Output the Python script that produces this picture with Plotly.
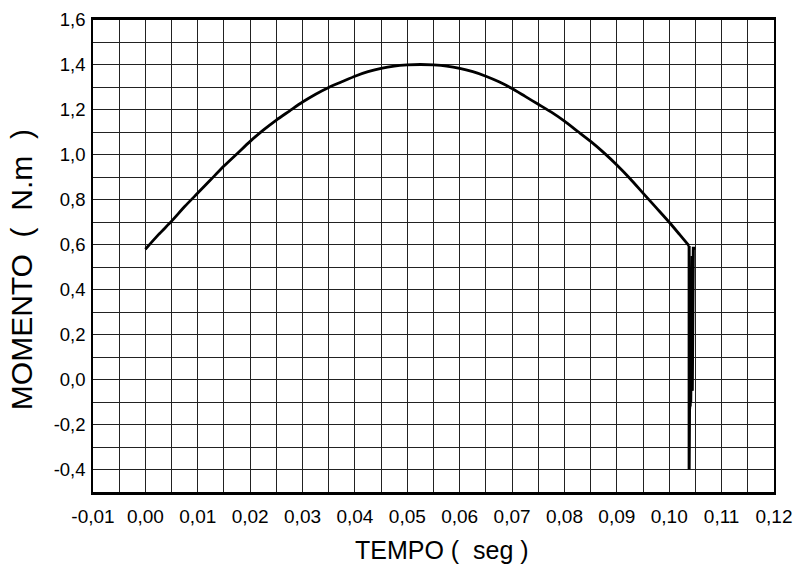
import plotly.graph_objects as go

# Curve (time in s, moment in N.m)
tempo = [0.0000, 0.0025, 0.0050, 0.0075, 0.0100, 0.0125, 0.0150, 0.0175, 0.0200,
         0.0225, 0.0250, 0.0275, 0.0300, 0.0325, 0.0350, 0.0375, 0.0400, 0.0425,
         0.0450, 0.0475, 0.0500, 0.0525, 0.0550, 0.0575, 0.0600, 0.0625, 0.0650,
         0.0675, 0.0700, 0.0725, 0.0750, 0.0775, 0.0800, 0.0825, 0.0850, 0.0875,
         0.0900, 0.0925, 0.0950, 0.0975, 0.1000, 0.1020, 0.1038]
momento = [0.580, 0.645, 0.705, 0.770, 0.830, 0.890, 0.950, 1.005, 1.060,
           1.110, 1.155, 1.195, 1.235, 1.270, 1.300, 1.325, 1.350, 1.370,
           1.385, 1.395, 1.400, 1.402, 1.400, 1.395, 1.385, 1.370, 1.350,
           1.325, 1.295, 1.260, 1.225, 1.190, 1.150, 1.105, 1.060, 1.010,
           0.955, 0.895, 0.830, 0.765, 0.700, 0.645, 0.595]

# Transient oscillation at the end of the curve
tempo_osc = [0.1038, 0.1038, 0.1040, 0.1039, 0.1042, 0.1040, 0.1043, 0.1041,
             0.1044, 0.1042, 0.1045, 0.1043, 0.1045, 0.1044, 0.1046, 0.1046, 0.1050]
momento_osc = [0.595, -0.40, 0.35, -0.13, 0.45, -0.12, 0.50, -0.10,
               0.55, -0.05, 0.50, 0.00, 0.45, -0.05, 0.40, 0.585, 0.585]

x_tickvals = [-0.01, 0.00, 0.01, 0.02, 0.03, 0.04, 0.05, 0.06, 0.07, 0.08, 0.09, 0.10, 0.11, 0.12]
x_ticktext = ["-0,01", "0,00", "0,01", "0,02", "0,03", "0,04", "0,05", "0,06",
              "0,07", "0,08", "0,09", "0,10", "0,11", "0,12"]
y_tickvals = [-0.4, -0.2, 0.0, 0.2, 0.4, 0.6, 0.8, 1.0, 1.2, 1.4, 1.6]
y_ticktext = ["-0,4", "-0,2", "0,0", "0,2", "0,4", "0,6", "0,8", "1,0", "1,2", "1,4", "1,6"]

x_title = "TEMPO\u00a0(\u00a0\u00a0seg\u00a0)"
y_title = "MOMENTO\u00a0\u00a0(\u00a0\u00a0N.m\u00a0\u00a0)"

fig = go.Figure()
fig.add_trace(go.Scatter(x=tempo, y=momento, mode="lines",
                         line=dict(color="black", width=2.8, shape="spline", smoothing=0.6),
                         showlegend=False))
fig.add_trace(go.Scatter(x=tempo_osc, y=momento_osc, mode="lines",
                         line=dict(color="black", width=3), showlegend=False))

font_family = "Liberation Sans, Arial, sans-serif"

fig.update_layout(
    width=799, height=565,
    margin=dict(l=93, r=25, t=20, b=73, autoexpand=False),
    paper_bgcolor="white", plot_bgcolor="white",
    font=dict(family=font_family, color="black"),
    xaxis=dict(
        range=[-0.01, 0.12], tickvals=x_tickvals, ticktext=x_ticktext,
        tickfont=dict(size=19), showgrid=True, gridcolor="#222", gridwidth=1.3,
        minor=dict(dtick=0.005, tick0=0, showgrid=True, gridcolor="#222", gridwidth=1.3),
        showline=True, linecolor="black", linewidth=2.5, mirror=True,
        zeroline=False, ticks="", ticklabelstandoff=5, automargin=False,
    ),
    yaxis=dict(
        range=[-0.5, 1.6], tickvals=y_tickvals, ticktext=y_ticktext,
        tickfont=dict(size=18.5), showgrid=True, gridcolor="#222", gridwidth=1.3,
        minor=dict(dtick=0.1, tick0=0, showgrid=True, gridcolor="#222", gridwidth=1.3),
        showline=True, linecolor="black", linewidth=1.5, mirror=True,
        zeroline=False, ticks="", ticklabelstandoff=2, automargin=False,
    ),
    annotations=[
        dict(text=x_title, xref="paper", yref="paper", x=0.513, y=0,
             xanchor="center", yanchor="middle", yshift=-58, showarrow=False,
             font=dict(size=25, family=font_family, color="black")),
        dict(text=y_title, xref="paper", yref="paper", x=0, y=0.47,
             xanchor="center", yanchor="middle", xshift=-72, textangle=-90,
             showarrow=False, font=dict(size=30, family=font_family, color="black")),
    ],
)

fig.write_html("out.html")
